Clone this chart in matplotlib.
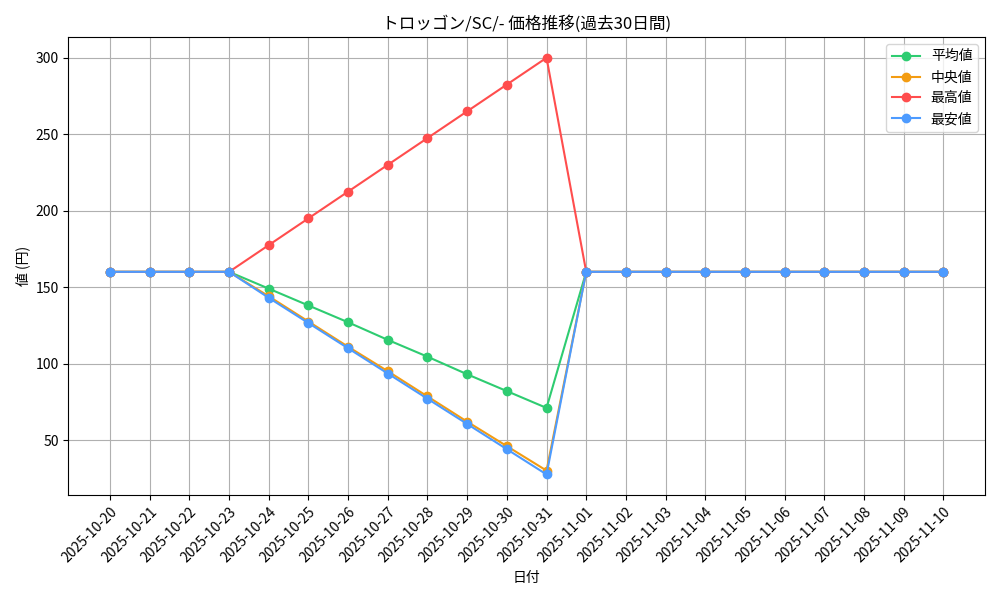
import matplotlib
matplotlib.use("Agg")
import matplotlib.pyplot as plt

plt.rcParams['font.family'] = ['Noto Sans CJK JP', 'DejaVu Sans']

dates = ["2025-10-20","2025-10-21","2025-10-22","2025-10-23","2025-10-24","2025-10-25","2025-10-26",
         "2025-10-27","2025-10-28","2025-10-29","2025-10-30","2025-10-31","2025-11-01","2025-11-02",
         "2025-11-03","2025-11-04","2025-11-05","2025-11-06","2025-11-07","2025-11-08","2025-11-09","2025-11-10"]
avg = [160,160,160,160,149,138,127,115.5,104.5,93,82,71] + [160]*10
median = [160,160,160,160,144,127.5,111,95,78.5,62,46,30] + [160]*10
high = [160,160,160,160,177.5,195,212.5,230,247.5,265,282.5,300] + [160]*10
low = [160,160,160,160,143,126.5,110,93.5,77,60.5,44,27.5] + [160]*10

fig, ax = plt.subplots(figsize=(10, 6), dpi=100)
x = range(len(dates))
ax.plot(x, avg, marker='o', color='#2ecc71', label='平均値')
ax.plot(x, median, marker='o', color='#f39c12', label='中央値')
ax.plot(x, high, marker='o', color='#ff4d4d', label='最高値')
ax.plot(x, low, marker='o', color='#4d9bff', label='最安値')
ax.set_xticks(list(x))
ax.set_xticklabels(dates, rotation=45, ha='right', rotation_mode='anchor')
ax.set_title('トロッゴン/SC/- 価格推移(過去30日間)')
ax.set_xlabel('日付')
ax.set_ylabel('値 (円)')
ax.grid(True)
ax.legend(loc='upper right')
fig.tight_layout()
fig.savefig('out.png')
